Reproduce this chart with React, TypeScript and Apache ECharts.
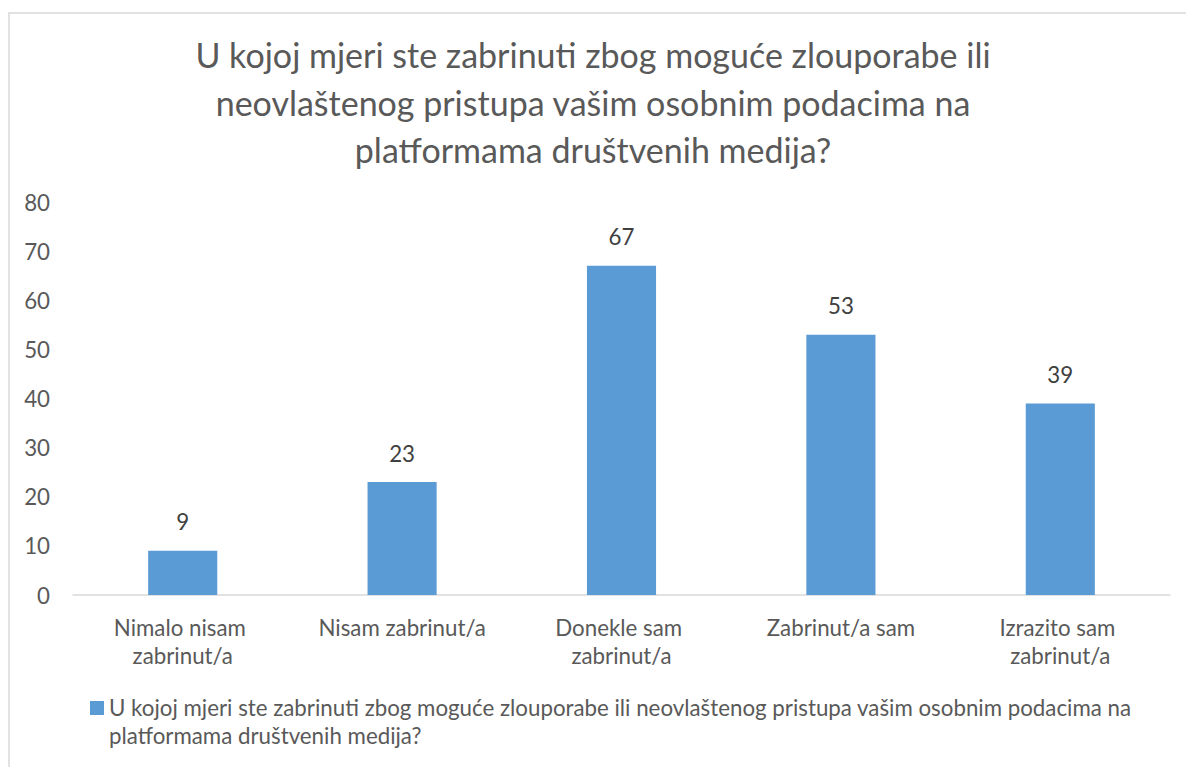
import React, { useEffect, useRef } from "react";
import * as echarts from "echarts";

const titleText =
  "U kojoj mjeri ste zabrinuti zbog moguće zlouporabe ili\nneovlaštenog pristupa vašim osobnim podacima na\nplatformama društvenih medija?";
const seriesName =
  "U kojoj mjeri ste zabrinuti zbog moguće zlouporabe ili neovlaštenog pristupa vašim osobnim podacima na platformama društvenih medija?";
const categories = [
  "Nimalo nisam zabrinut/a",
  "Nisam zabrinut/a",
  "Donekle sam zabrinut/a",
  "Zabrinut/a sam",
  "Izrazito sam zabrinut/a",
];
const values = [9, 23, 67, 53, 39];

const FONT = "Lato";
const TEXT = "#595959";

export default function App() {
  const ref = useRef<HTMLDivElement>(null);
  useEffect(() => {
    if (!ref.current) return;
    const chart = echarts.init(ref.current, undefined, { renderer: "svg" });
    chart.setOption({
      animation: false,
      backgroundColor: "#ffffff",
      textStyle: { fontFamily: FONT },
      title: {
        text: titleText,
        left: "center",
        top: 26,
        textStyle: {
          fontFamily: FONT,
          fontSize: 34,
          fontWeight: "normal",
          color: TEXT,
          lineHeight: 47.5,
        },
      },
      graphic: [
        {
          type: "rect",
          shape: { x: 9, y: 13, width: 1190, height: 780 },
          style: { fill: "none", stroke: "#d9d9d9", lineWidth: 1.5 },
          silent: true,
          z: -1,
        },
      ],
      legend: {
        left: 85,
        top: 688,
        itemWidth: 14,
        itemHeight: 40,
        icon: "path://M0,0H14V14H0Z M0,39.9H0.1V40H0Z",
        formatter: (name: string) => name.replace(" platformama", "\nplatformama"),
        textStyle: {
          fontFamily: FONT,
          fontSize: 22.3,
          color: TEXT,
          lineHeight: 28,
        },
        data: [seriesName],
      },
      grid: { left: 73, right: 16, top: 202, bottom: 172, containLabel: false },
      xAxis: {
        type: "category",
        data: categories,
        axisLine: { lineStyle: { color: "#d9d9d9", width: 1.5 } },
        axisTick: { show: false },
        axisLabel: {
          fontFamily: FONT,
          fontSize: 22.3,
          color: TEXT,
          lineHeight: 28,
          margin: 18,
          width: 180,
          overflow: "break",
          interval: 0,
        },
      },
      yAxis: {
        type: "value",
        min: 0,
        max: 80,
        interval: 10,
        splitLine: { show: false },
        axisLine: { show: false },
        axisTick: { show: false },
        axisLabel: { fontFamily: FONT, fontSize: 22.3, color: TEXT, margin: 23 },
      },
      series: [
        {
          name: seriesName,
          type: "bar",
          data: values,
          barWidth: "31.5%",
          itemStyle: { color: "#5B9BD5" },
          label: {
            show: true,
            position: "top",
            distance: 18,
            fontFamily: FONT,
            fontSize: 22.3,
            color: "#404040",
          },
        },
      ],
    });
    return () => chart.dispose();
  }, []);
  return (
    <div
      ref={ref}
      style={{ position: "absolute", left: 0, top: 0, width: 1186, height: 767 }}
    />
  );
}
